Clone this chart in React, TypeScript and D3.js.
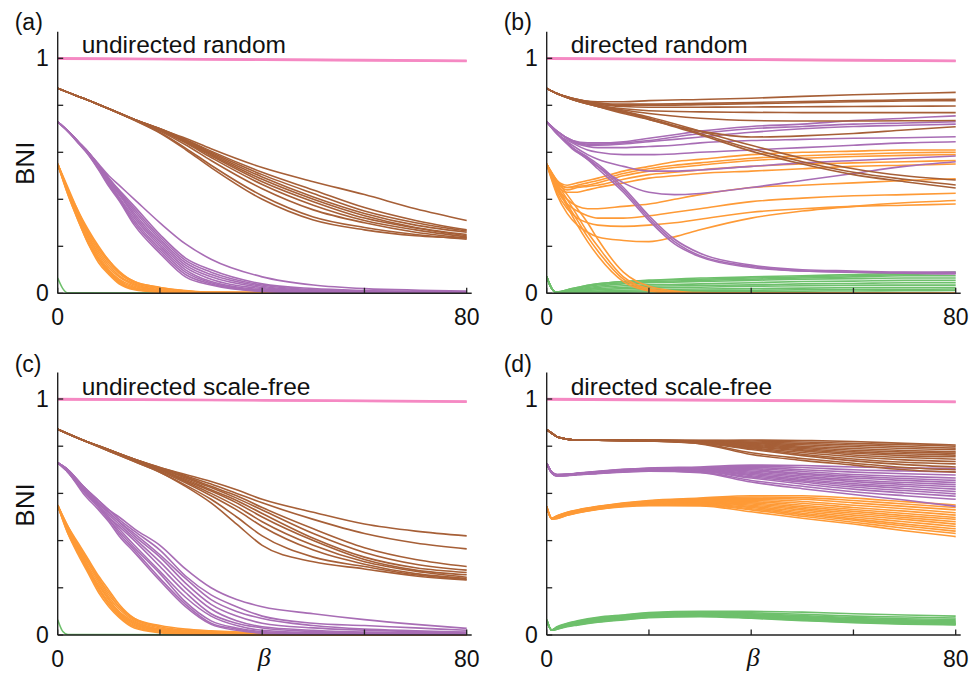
import React from 'react';
import * as d3 from 'd3';

// ---------- labels / ticks ----------
const PANEL_LETTERS = ['(a)', '(b)', '(c)', '(d)'];
const PANEL_TITLES = ['undirected random', 'directed random', 'undirected scale-free', 'directed scale-free'];
const X_TICKS = [0, 20, 40, 60, 80];
const Y_TICKS = [0, 0.2, 0.4, 0.6, 0.8, 1];
const X_TICK_LABELS = [{ v: 0, t: '0' }, { v: 80, t: '80' }];
const Y_TICK_LABELS = [{ v: 0, t: '0' }, { v: 1, t: '1' }];
const Y_LABEL = 'BNI';
const X_LABEL = 'β';

const COLORS = {
  pink: '#f589c3',
  brown: '#a65f37',
  purple: '#a86db5',
  orange: '#fe9a36',
  green: '#6ec06c',
};

// ---------- panel (a): undirected random ----------
const A_PINK_BETA = [0, 40, 80];
const A_PINK = [[1.0, 0.995, 0.99], [0.998, 0.994, 0.988]];
const A_GREEN_BETA = [0, 1, 2, 80];
const A_GREEN = [[0.065, 0.02, 0.002, 0]];
const A_ORANGE_BETA = [0, 2, 4, 6, 8, 10, 12, 15, 20, 25, 30, 80];
const A_ORANGE = [
  [0.55, 0.45, 0.35, 0.27, 0.2, 0.14, 0.095, 0.05, 0.025, 0.012, 0.005, 0],
  [0.55, 0.44, 0.34, 0.26, 0.19, 0.13, 0.085, 0.045, 0.02, 0.01, 0.004, 0],
  [0.55, 0.44, 0.34, 0.25, 0.18, 0.12, 0.075, 0.04, 0.015, 0.006, 0.002, 0],
  [0.55, 0.44, 0.33, 0.24, 0.17, 0.11, 0.07, 0.035, 0.012, 0.004, 0.001, 0],
  [0.55, 0.43, 0.33, 0.24, 0.16, 0.1, 0.06, 0.03, 0.01, 0.003, 0, 0],
  [0.55, 0.43, 0.32, 0.23, 0.15, 0.095, 0.055, 0.025, 0.008, 0.002, 0, 0],
  [0.55, 0.43, 0.32, 0.22, 0.145, 0.09, 0.05, 0.02, 0.006, 0, 0, 0],
  [0.55, 0.42, 0.31, 0.21, 0.14, 0.085, 0.045, 0.018, 0.005, 0, 0, 0],
  [0.55, 0.42, 0.31, 0.21, 0.13, 0.08, 0.04, 0.015, 0.004, 0, 0, 0],
  [0.55, 0.44, 0.35, 0.26, 0.19, 0.14, 0.09, 0.05, 0.025, 0.01, 0.004, 0],
];
const A_PURPLE_BETA = [0, 2, 4, 6, 8, 10, 12, 15, 20, 25, 30, 40, 50, 60, 80];
const A_PURPLE = [
  [0.73, 0.69, 0.645, 0.6, 0.55, 0.5, 0.46, 0.4, 0.3, 0.21, 0.145, 0.07, 0.035, 0.02, 0.01],
  [0.73, 0.69, 0.645, 0.6, 0.545, 0.49, 0.44, 0.37, 0.25, 0.15, 0.1, 0.04, 0.02, 0.012, 0.006],
  [0.73, 0.69, 0.645, 0.6, 0.545, 0.49, 0.435, 0.36, 0.24, 0.14, 0.09, 0.035, 0.015, 0.01, 0.005],
  [0.73, 0.69, 0.645, 0.6, 0.54, 0.485, 0.43, 0.35, 0.23, 0.13, 0.08, 0.03, 0.012, 0.008, 0.004],
  [0.73, 0.69, 0.645, 0.595, 0.54, 0.48, 0.425, 0.34, 0.22, 0.12, 0.07, 0.025, 0.01, 0.006, 0.003],
  [0.73, 0.69, 0.645, 0.595, 0.535, 0.475, 0.42, 0.33, 0.21, 0.11, 0.06, 0.02, 0.008, 0.005, 0.003],
  [0.73, 0.69, 0.645, 0.595, 0.535, 0.47, 0.41, 0.32, 0.2, 0.1, 0.05, 0.015, 0.006, 0.004, 0.002],
  [0.73, 0.69, 0.645, 0.595, 0.53, 0.465, 0.405, 0.31, 0.19, 0.09, 0.045, 0.012, 0.005, 0.003, 0.002],
  [0.73, 0.69, 0.64, 0.59, 0.53, 0.46, 0.4, 0.3, 0.18, 0.08, 0.04, 0.01, 0.004, 0.002, 0.001],
  [0.73, 0.69, 0.64, 0.59, 0.525, 0.455, 0.395, 0.29, 0.17, 0.07, 0.035, 0.008, 0.003, 0.002, 0.001],
];
const A_BROWN_BETA = [0, 2, 5, 10, 15, 20, 25, 30, 40, 50, 60, 70, 80];
const A_BROWN = [
  [0.872, 0.855, 0.83, 0.785, 0.74, 0.7, 0.66, 0.615, 0.535, 0.475, 0.42, 0.36, 0.31],
  [0.872, 0.855, 0.83, 0.785, 0.74, 0.7, 0.655, 0.605, 0.515, 0.44, 0.365, 0.31, 0.27],
  [0.872, 0.855, 0.83, 0.785, 0.74, 0.7, 0.652, 0.6, 0.505, 0.425, 0.35, 0.3, 0.265],
  [0.872, 0.855, 0.83, 0.785, 0.74, 0.698, 0.65, 0.595, 0.495, 0.41, 0.34, 0.29, 0.26],
  [0.872, 0.855, 0.83, 0.785, 0.74, 0.696, 0.646, 0.59, 0.485, 0.4, 0.33, 0.28, 0.25],
  [0.872, 0.855, 0.83, 0.785, 0.74, 0.695, 0.643, 0.585, 0.475, 0.39, 0.32, 0.278, 0.245],
  [0.872, 0.855, 0.83, 0.785, 0.74, 0.694, 0.64, 0.578, 0.463, 0.375, 0.31, 0.27, 0.24],
  [0.872, 0.855, 0.83, 0.785, 0.739, 0.69, 0.632, 0.565, 0.445, 0.355, 0.3, 0.26, 0.235],
  [0.872, 0.855, 0.83, 0.785, 0.737, 0.684, 0.618, 0.545, 0.415, 0.325, 0.28, 0.25, 0.23],
  [0.872, 0.855, 0.83, 0.785, 0.736, 0.682, 0.612, 0.535, 0.4, 0.312, 0.27, 0.245, 0.235],
];

// ---------- panel (b): directed random ----------
const B_PINK_BETA = [0, 40, 80];
const B_PINK = [[1.0, 0.995, 0.99], [0.998, 0.994, 0.988]];
const B_GREEN_BETA = [0, 1, 2, 5, 10, 15, 20, 30, 40, 50, 60, 70, 80];
const B_GREEN = [
  [0.07, 0.02, 0.005, 0.02, 0.04, 0.05, 0.055, 0.065, 0.07, 0.075, 0.08, 0.085, 0.09],
  [0.07, 0.02, 0.005, 0.02, 0.04, 0.05, 0.055, 0.06, 0.065, 0.07, 0.075, 0.08, 0.085],
  [0.07, 0.02, 0.005, 0.018, 0.035, 0.045, 0.05, 0.055, 0.06, 0.065, 0.07, 0.075, 0.075],
  [0.07, 0.02, 0.004, 0.015, 0.03, 0.04, 0.045, 0.05, 0.055, 0.06, 0.062, 0.065, 0.065],
  [0.07, 0.02, 0.004, 0.012, 0.025, 0.032, 0.036, 0.04, 0.045, 0.05, 0.052, 0.055, 0.055],
  [0.07, 0.02, 0.003, 0.01, 0.02, 0.025, 0.03, 0.033, 0.036, 0.04, 0.042, 0.045, 0.045],
  [0.07, 0.02, 0.003, 0.008, 0.015, 0.02, 0.023, 0.026, 0.03, 0.032, 0.034, 0.035, 0.035],
  [0.07, 0.02, 0.002, 0.006, 0.01, 0.013, 0.016, 0.018, 0.02, 0.022, 0.024, 0.025, 0.025],
  [0.07, 0.02, 0.002, 0.004, 0.007, 0.009, 0.01, 0.012, 0.013, 0.015, 0.016, 0.017, 0.018],
  [0.07, 0.02, 0.001, 0.002, 0.004, 0.005, 0.006, 0.007, 0.008, 0.009, 0.01, 0.011, 0.012],
];
const B_ORANGE_BETA = [0, 2, 4, 6, 8, 10, 15, 20, 25, 30, 40, 50, 60, 70, 80];
const B_ORANGE = [
  [0.55, 0.48, 0.46, 0.47, 0.48, 0.49, 0.52, 0.54, 0.56, 0.57, 0.59, 0.6, 0.605, 0.61, 0.61],
  [0.55, 0.48, 0.45, 0.46, 0.47, 0.48, 0.51, 0.53, 0.545, 0.555, 0.575, 0.585, 0.592, 0.598, 0.6],
  [0.55, 0.47, 0.45, 0.455, 0.46, 0.47, 0.5, 0.52, 0.535, 0.545, 0.565, 0.575, 0.582, 0.587, 0.59],
  [0.55, 0.47, 0.44, 0.45, 0.455, 0.46, 0.485, 0.505, 0.515, 0.525, 0.54, 0.55, 0.555, 0.56, 0.565],
  [0.55, 0.46, 0.43, 0.43, 0.44, 0.45, 0.47, 0.49, 0.5, 0.51, 0.52, 0.53, 0.54, 0.545, 0.55],
  [0.55, 0.45, 0.4, 0.37, 0.36, 0.36, 0.37, 0.38, 0.4, 0.42, 0.45, 0.46, 0.47, 0.48, 0.487],
  [0.55, 0.44, 0.38, 0.35, 0.33, 0.32, 0.32, 0.33, 0.345, 0.36, 0.39, 0.405, 0.415, 0.42, 0.426],
  [0.55, 0.43, 0.36, 0.32, 0.3, 0.29, 0.285, 0.29, 0.3, 0.315, 0.345, 0.36, 0.37, 0.375, 0.38],
  [0.55, 0.42, 0.34, 0.29, 0.26, 0.24, 0.225, 0.22, 0.24, 0.27, 0.32, 0.35, 0.37, 0.385, 0.395],
  [0.55, 0.47, 0.4, 0.33, 0.26, 0.2, 0.07, 0.02, 0.005, 0, 0, 0, 0, 0, 0],
  [0.55, 0.46, 0.38, 0.31, 0.24, 0.18, 0.06, 0.015, 0.004, 0, 0, 0, 0, 0, 0],
  [0.55, 0.45, 0.37, 0.29, 0.22, 0.16, 0.05, 0.01, 0, 0, 0, 0, 0, 0, 0],
  [0.55, 0.48, 0.42, 0.36, 0.3, 0.23, 0.09, 0.03, 0.01, 0.003, 0, 0, 0, 0, 0],
];
const B_PURPLE_BETA = [0, 2, 5, 8, 10, 15, 20, 25, 30, 40, 50, 60, 70, 80];
const B_PURPLE = [
  [0.73, 0.69, 0.65, 0.64, 0.64, 0.645, 0.66, 0.675, 0.69, 0.71, 0.72, 0.735, 0.745, 0.755],
  [0.73, 0.69, 0.65, 0.635, 0.635, 0.64, 0.65, 0.665, 0.68, 0.7, 0.71, 0.72, 0.725, 0.73],
  [0.73, 0.69, 0.65, 0.63, 0.63, 0.635, 0.645, 0.655, 0.665, 0.685, 0.7, 0.71, 0.715, 0.72],
  [0.73, 0.69, 0.645, 0.625, 0.62, 0.62, 0.625, 0.63, 0.64, 0.65, 0.655, 0.66, 0.662, 0.666],
  [0.73, 0.68, 0.64, 0.61, 0.6, 0.59, 0.59, 0.593, 0.6, 0.61, 0.62, 0.63, 0.64, 0.645],
  [0.73, 0.68, 0.63, 0.59, 0.57, 0.54, 0.52, 0.52, 0.525, 0.54, 0.555, 0.565, 0.575, 0.584],
  [0.73, 0.68, 0.62, 0.57, 0.54, 0.47, 0.43, 0.42, 0.425, 0.45, 0.48, 0.51, 0.54, 0.56],
  [0.73, 0.68, 0.62, 0.58, 0.55, 0.45, 0.33, 0.23, 0.17, 0.12, 0.1, 0.095, 0.09, 0.09],
  [0.73, 0.68, 0.62, 0.575, 0.54, 0.44, 0.32, 0.22, 0.16, 0.115, 0.095, 0.09, 0.085, 0.082],
  [0.73, 0.68, 0.615, 0.57, 0.53, 0.43, 0.31, 0.21, 0.155, 0.11, 0.095, 0.09, 0.088, 0.085],
];
const B_BROWN_BETA = [0, 2, 5, 10, 15, 20, 30, 40, 50, 60, 70, 80];
const B_BROWN = [
  [0.872, 0.85, 0.83, 0.815, 0.815, 0.82, 0.825, 0.83, 0.838, 0.845, 0.85, 0.855],
  [0.872, 0.85, 0.83, 0.81, 0.805, 0.805, 0.808, 0.812, 0.816, 0.82, 0.823, 0.826],
  [0.872, 0.85, 0.83, 0.81, 0.8, 0.8, 0.803, 0.807, 0.811, 0.815, 0.818, 0.82],
  [0.872, 0.85, 0.828, 0.805, 0.795, 0.792, 0.792, 0.793, 0.794, 0.795, 0.796, 0.797],
  [0.872, 0.85, 0.828, 0.8, 0.785, 0.777, 0.772, 0.77, 0.769, 0.769, 0.769, 0.769],
  [0.872, 0.85, 0.826, 0.8, 0.78, 0.765, 0.745, 0.735, 0.733, 0.733, 0.734, 0.735],
  [0.872, 0.85, 0.826, 0.795, 0.775, 0.74, 0.69, 0.665, 0.67, 0.68, 0.695, 0.709],
  [0.872, 0.85, 0.825, 0.8, 0.775, 0.75, 0.69, 0.63, 0.575, 0.53, 0.5, 0.482],
  [0.872, 0.85, 0.825, 0.795, 0.77, 0.745, 0.68, 0.615, 0.56, 0.515, 0.485, 0.461],
  [0.872, 0.85, 0.825, 0.795, 0.765, 0.74, 0.675, 0.605, 0.55, 0.505, 0.475, 0.448],
];

// ---------- panel (c): undirected scale-free ----------
const C_PINK_BETA = [0, 40, 80];
const C_PINK = [[1.0, 0.995, 0.99], [0.998, 0.994, 0.988]];
const C_GREEN_BETA = [0, 1, 2, 80];
const C_GREEN = [[0.065, 0.015, 0.002, 0]];
const C_ORANGE_BETA = [0, 2, 4, 6, 8, 10, 12, 15, 20, 25, 30, 40, 80];
const C_ORANGE = [
  [0.55, 0.46, 0.39, 0.32, 0.25, 0.19, 0.13, 0.07, 0.035, 0.02, 0.015, 0.008, 0],
  [0.55, 0.45, 0.38, 0.31, 0.24, 0.17, 0.12, 0.065, 0.03, 0.018, 0.012, 0.006, 0],
  [0.55, 0.45, 0.37, 0.3, 0.23, 0.16, 0.11, 0.06, 0.025, 0.015, 0.01, 0.005, 0],
  [0.55, 0.45, 0.37, 0.29, 0.22, 0.15, 0.1, 0.055, 0.022, 0.012, 0.008, 0.004, 0],
  [0.55, 0.44, 0.36, 0.28, 0.21, 0.15, 0.095, 0.05, 0.02, 0.01, 0.006, 0.003, 0],
  [0.55, 0.44, 0.36, 0.28, 0.2, 0.14, 0.09, 0.045, 0.018, 0.008, 0.005, 0.002, 0],
  [0.55, 0.44, 0.35, 0.27, 0.2, 0.13, 0.085, 0.04, 0.015, 0.006, 0.004, 0.002, 0],
  [0.55, 0.43, 0.35, 0.27, 0.19, 0.13, 0.08, 0.035, 0.012, 0.005, 0.003, 0.001, 0],
  [0.55, 0.43, 0.34, 0.26, 0.18, 0.12, 0.075, 0.03, 0.01, 0.004, 0.002, 0, 0],
  [0.55, 0.46, 0.38, 0.31, 0.24, 0.18, 0.12, 0.07, 0.04, 0.025, 0.018, 0.01, 0.002],
];
const C_PURPLE_BETA = [0, 2, 5, 8, 10, 12, 15, 20, 25, 30, 35, 40, 50, 60, 70, 80];
const C_PURPLE = [
  [0.73, 0.7, 0.63, 0.57, 0.53, 0.5, 0.45, 0.38, 0.28, 0.2, 0.15, 0.12, 0.09, 0.065, 0.045, 0.028],
  [0.73, 0.7, 0.63, 0.57, 0.53, 0.49, 0.44, 0.36, 0.25, 0.17, 0.12, 0.08, 0.05, 0.04, 0.03, 0.02],
  [0.73, 0.7, 0.62, 0.56, 0.52, 0.48, 0.42, 0.33, 0.22, 0.13, 0.08, 0.05, 0.03, 0.02, 0.015, 0.01],
  [0.73, 0.7, 0.62, 0.56, 0.51, 0.47, 0.41, 0.31, 0.2, 0.11, 0.06, 0.035, 0.02, 0.012, 0.01, 0.008],
  [0.73, 0.69, 0.62, 0.55, 0.5, 0.46, 0.4, 0.29, 0.18, 0.09, 0.05, 0.03, 0.015, 0.01, 0.008, 0.005],
  [0.73, 0.69, 0.61, 0.55, 0.5, 0.45, 0.38, 0.27, 0.16, 0.08, 0.04, 0.02, 0.01, 0.008, 0.005, 0.004],
  [0.73, 0.69, 0.61, 0.54, 0.49, 0.44, 0.37, 0.26, 0.14, 0.06, 0.03, 0.015, 0.008, 0.005, 0.004, 0.003],
  [0.73, 0.69, 0.61, 0.54, 0.49, 0.43, 0.36, 0.24, 0.13, 0.05, 0.025, 0.01, 0.005, 0.004, 0.003, 0.002],
  [0.73, 0.69, 0.6, 0.53, 0.48, 0.42, 0.35, 0.23, 0.12, 0.045, 0.02, 0.008, 0.004, 0.003, 0.002, 0.002],
  [0.73, 0.7, 0.63, 0.56, 0.52, 0.48, 0.43, 0.34, 0.24, 0.15, 0.1, 0.07, 0.04, 0.025, 0.018, 0.012],
];
const C_BROWN_BETA = [0, 5, 10, 15, 20, 25, 30, 35, 40, 50, 60, 70, 80];
const C_BROWN = [
  [0.872, 0.825, 0.785, 0.745, 0.71, 0.68, 0.65, 0.615, 0.575, 0.52, 0.47, 0.44, 0.42],
  [0.872, 0.825, 0.785, 0.745, 0.71, 0.675, 0.64, 0.6, 0.56, 0.49, 0.43, 0.39, 0.365],
  [0.872, 0.825, 0.785, 0.745, 0.705, 0.67, 0.63, 0.59, 0.54, 0.45, 0.37, 0.32, 0.29],
  [0.872, 0.825, 0.785, 0.745, 0.705, 0.665, 0.625, 0.58, 0.53, 0.43, 0.35, 0.3, 0.275],
  [0.872, 0.825, 0.785, 0.74, 0.7, 0.66, 0.615, 0.57, 0.515, 0.41, 0.33, 0.285, 0.265],
  [0.872, 0.825, 0.785, 0.74, 0.7, 0.655, 0.61, 0.56, 0.5, 0.4, 0.32, 0.275, 0.255],
  [0.872, 0.825, 0.785, 0.74, 0.7, 0.65, 0.6, 0.545, 0.48, 0.38, 0.31, 0.27, 0.245],
  [0.872, 0.825, 0.78, 0.74, 0.695, 0.645, 0.59, 0.53, 0.46, 0.36, 0.3, 0.26, 0.24],
  [0.872, 0.825, 0.78, 0.735, 0.69, 0.635, 0.575, 0.5, 0.42, 0.33, 0.29, 0.255, 0.235],
  [0.872, 0.825, 0.78, 0.735, 0.69, 0.63, 0.56, 0.47, 0.38, 0.31, 0.28, 0.25, 0.233],
];

// ---------- panel (d): directed scale-free ----------
const D_PINK_BETA = [0, 40, 80];
const D_PINK = [[1.0, 0.995, 0.989], [0.998, 0.993, 0.987]];
const D_GREEN_BETA = [0, 1, 2, 4, 6, 10, 15, 20, 30, 40, 50, 60, 70, 80];
const D_GREEN = [
  [0.064, 0.022, 0.035, 0.05, 0.06, 0.075, 0.085, 0.095, 0.1, 0.1, 0.097, 0.09, 0.085, 0.08],
  [0.064, 0.021, 0.033, 0.048, 0.058, 0.072, 0.083, 0.092, 0.098, 0.094, 0.088, 0.08, 0.076, 0.072],
  [0.064, 0.021, 0.032, 0.046, 0.056, 0.07, 0.08, 0.089, 0.095, 0.09, 0.082, 0.074, 0.069, 0.066],
  [0.064, 0.021, 0.031, 0.045, 0.055, 0.068, 0.078, 0.087, 0.093, 0.087, 0.078, 0.07, 0.064, 0.061],
  [0.064, 0.021, 0.03, 0.044, 0.053, 0.066, 0.076, 0.085, 0.09, 0.084, 0.075, 0.066, 0.06, 0.057],
  [0.064, 0.02, 0.029, 0.042, 0.051, 0.064, 0.074, 0.083, 0.088, 0.081, 0.072, 0.063, 0.057, 0.054],
  [0.064, 0.02, 0.028, 0.041, 0.05, 0.062, 0.072, 0.081, 0.086, 0.079, 0.069, 0.06, 0.054, 0.051],
  [0.064, 0.02, 0.027, 0.04, 0.048, 0.06, 0.07, 0.079, 0.084, 0.077, 0.067, 0.058, 0.052, 0.049],
  [0.064, 0.02, 0.026, 0.038, 0.046, 0.058, 0.068, 0.077, 0.082, 0.075, 0.065, 0.056, 0.05, 0.047],
  [0.064, 0.02, 0.025, 0.037, 0.044, 0.056, 0.066, 0.075, 0.08, 0.073, 0.063, 0.054, 0.048, 0.045],
  [0.064, 0.02, 0.024, 0.035, 0.042, 0.054, 0.064, 0.073, 0.078, 0.071, 0.061, 0.052, 0.046, 0.043],
];
const D_ORANGE_BETA = [0, 1, 2, 4, 6, 10, 20, 30, 40, 50, 60, 70, 80];
const D_ORANGE = [
  [0.544, 0.495, 0.505, 0.52, 0.53, 0.545, 0.57, 0.58, 0.59, 0.59, 0.58, 0.565, 0.551],
  [0.544, 0.495, 0.504, 0.519, 0.529, 0.544, 0.568, 0.578, 0.585, 0.582, 0.57, 0.555, 0.54],
  [0.544, 0.495, 0.503, 0.518, 0.528, 0.543, 0.566, 0.575, 0.58, 0.575, 0.56, 0.545, 0.53],
  [0.544, 0.495, 0.502, 0.517, 0.527, 0.542, 0.565, 0.572, 0.575, 0.566, 0.55, 0.535, 0.518],
  [0.544, 0.494, 0.501, 0.516, 0.526, 0.541, 0.563, 0.57, 0.57, 0.558, 0.54, 0.525, 0.508],
  [0.544, 0.494, 0.5, 0.515, 0.525, 0.54, 0.562, 0.567, 0.565, 0.55, 0.532, 0.515, 0.498],
  [0.544, 0.494, 0.5, 0.514, 0.524, 0.539, 0.56, 0.565, 0.56, 0.543, 0.524, 0.506, 0.49],
  [0.544, 0.494, 0.499, 0.513, 0.523, 0.538, 0.558, 0.562, 0.555, 0.536, 0.516, 0.498, 0.48],
  [0.544, 0.493, 0.498, 0.512, 0.522, 0.537, 0.557, 0.56, 0.55, 0.53, 0.508, 0.49, 0.47],
  [0.544, 0.493, 0.497, 0.511, 0.521, 0.536, 0.555, 0.557, 0.545, 0.523, 0.5, 0.48, 0.46],
  [0.544, 0.493, 0.496, 0.51, 0.52, 0.535, 0.553, 0.555, 0.54, 0.516, 0.492, 0.47, 0.45],
  [0.544, 0.492, 0.495, 0.509, 0.519, 0.534, 0.551, 0.552, 0.535, 0.51, 0.486, 0.462, 0.44],
  [0.544, 0.492, 0.494, 0.508, 0.518, 0.533, 0.55, 0.55, 0.53, 0.503, 0.478, 0.452, 0.43],
  [0.544, 0.492, 0.493, 0.507, 0.517, 0.532, 0.548, 0.547, 0.522, 0.495, 0.47, 0.442, 0.417],
];
const D_PURPLE_BETA = [0, 1, 2, 4, 6, 10, 20, 30, 40, 50, 60, 70, 80];
const D_PURPLE = [
  [0.727, 0.69, 0.68, 0.682, 0.686, 0.694, 0.707, 0.712, 0.72, 0.718, 0.712, 0.708, 0.705],
  [0.727, 0.69, 0.68, 0.681, 0.685, 0.693, 0.706, 0.71, 0.715, 0.71, 0.7, 0.695, 0.69],
  [0.727, 0.69, 0.679, 0.681, 0.685, 0.692, 0.705, 0.708, 0.71, 0.7, 0.69, 0.683, 0.678],
  [0.727, 0.689, 0.679, 0.68, 0.684, 0.691, 0.704, 0.707, 0.705, 0.693, 0.68, 0.672, 0.665],
  [0.727, 0.689, 0.678, 0.68, 0.684, 0.69, 0.703, 0.705, 0.7, 0.685, 0.672, 0.663, 0.655],
  [0.727, 0.689, 0.678, 0.679, 0.683, 0.69, 0.702, 0.704, 0.695, 0.68, 0.665, 0.655, 0.646],
  [0.727, 0.688, 0.677, 0.679, 0.683, 0.689, 0.701, 0.702, 0.69, 0.673, 0.657, 0.646, 0.637],
  [0.727, 0.688, 0.677, 0.678, 0.682, 0.688, 0.7, 0.7, 0.685, 0.667, 0.65, 0.638, 0.628],
  [0.727, 0.688, 0.676, 0.678, 0.682, 0.688, 0.699, 0.698, 0.68, 0.66, 0.642, 0.63, 0.618],
  [0.727, 0.687, 0.676, 0.677, 0.681, 0.687, 0.698, 0.697, 0.675, 0.654, 0.635, 0.621, 0.608],
  [0.727, 0.687, 0.675, 0.677, 0.681, 0.686, 0.697, 0.695, 0.67, 0.648, 0.627, 0.612, 0.598],
  [0.727, 0.687, 0.675, 0.676, 0.68, 0.686, 0.696, 0.693, 0.665, 0.64, 0.618, 0.602, 0.588],
  [0.727, 0.686, 0.674, 0.676, 0.68, 0.685, 0.695, 0.69, 0.655, 0.63, 0.607, 0.59, 0.575],
  [0.727, 0.686, 0.674, 0.675, 0.679, 0.684, 0.694, 0.688, 0.648, 0.62, 0.595, 0.572, 0.545],
];
const D_BROWN_BETA = [0, 1, 2, 4, 6, 10, 20, 30, 40, 50, 60, 70, 80];
const D_BROWN = [
  [0.87, 0.855, 0.84, 0.83, 0.826, 0.825, 0.826, 0.825, 0.826, 0.824, 0.82, 0.812, 0.805],
  [0.87, 0.855, 0.84, 0.83, 0.826, 0.825, 0.825, 0.824, 0.822, 0.818, 0.812, 0.806, 0.8],
  [0.87, 0.855, 0.84, 0.83, 0.826, 0.825, 0.825, 0.823, 0.818, 0.812, 0.805, 0.798, 0.792],
  [0.87, 0.855, 0.84, 0.83, 0.826, 0.825, 0.825, 0.822, 0.815, 0.806, 0.798, 0.79, 0.785],
  [0.87, 0.855, 0.84, 0.83, 0.826, 0.825, 0.825, 0.821, 0.812, 0.8, 0.79, 0.782, 0.776],
  [0.87, 0.855, 0.84, 0.83, 0.826, 0.825, 0.824, 0.82, 0.808, 0.795, 0.783, 0.775, 0.77],
  [0.87, 0.855, 0.84, 0.83, 0.826, 0.825, 0.824, 0.819, 0.804, 0.79, 0.776, 0.768, 0.762],
  [0.87, 0.855, 0.84, 0.83, 0.826, 0.825, 0.824, 0.818, 0.8, 0.785, 0.77, 0.76, 0.755],
  [0.87, 0.855, 0.84, 0.83, 0.826, 0.825, 0.823, 0.817, 0.797, 0.78, 0.763, 0.752, 0.745],
  [0.87, 0.855, 0.84, 0.83, 0.826, 0.825, 0.823, 0.816, 0.793, 0.773, 0.755, 0.742, 0.735],
  [0.87, 0.855, 0.84, 0.83, 0.826, 0.825, 0.823, 0.815, 0.79, 0.766, 0.746, 0.732, 0.725],
  [0.87, 0.855, 0.84, 0.83, 0.826, 0.825, 0.822, 0.814, 0.786, 0.76, 0.738, 0.722, 0.712],
  [0.87, 0.855, 0.84, 0.83, 0.826, 0.825, 0.822, 0.812, 0.772, 0.748, 0.728, 0.71, 0.7],
  [0.87, 0.855, 0.84, 0.83, 0.826, 0.825, 0.822, 0.81, 0.765, 0.74, 0.72, 0.7, 0.69],
];

// ---------- panel assembly ----------
const PANEL_SERIES = [
  [
    { beta: A_GREEN_BETA, lines: A_GREEN, color: COLORS.green },
    { beta: A_ORANGE_BETA, lines: A_ORANGE, color: COLORS.orange },
    { beta: A_PURPLE_BETA, lines: A_PURPLE, color: COLORS.purple },
    { beta: A_BROWN_BETA, lines: A_BROWN, color: COLORS.brown },
    { beta: A_PINK_BETA, lines: A_PINK, color: COLORS.pink, thick: true },
  ],
  [
    { beta: B_GREEN_BETA, lines: B_GREEN, color: COLORS.green },
    { beta: B_ORANGE_BETA, lines: B_ORANGE, color: COLORS.orange },
    { beta: B_PURPLE_BETA, lines: B_PURPLE, color: COLORS.purple },
    { beta: B_BROWN_BETA, lines: B_BROWN, color: COLORS.brown },
    { beta: B_PINK_BETA, lines: B_PINK, color: COLORS.pink, thick: true },
  ],
  [
    { beta: C_GREEN_BETA, lines: C_GREEN, color: COLORS.green },
    { beta: C_ORANGE_BETA, lines: C_ORANGE, color: COLORS.orange },
    { beta: C_PURPLE_BETA, lines: C_PURPLE, color: COLORS.purple },
    { beta: C_BROWN_BETA, lines: C_BROWN, color: COLORS.brown },
    { beta: C_PINK_BETA, lines: C_PINK, color: COLORS.pink, thick: true },
  ],
  [
    { beta: D_GREEN_BETA, lines: D_GREEN, color: COLORS.green },
    { beta: D_ORANGE_BETA, lines: D_ORANGE, color: COLORS.orange },
    { beta: D_PURPLE_BETA, lines: D_PURPLE, color: COLORS.purple },
    { beta: D_BROWN_BETA, lines: D_BROWN, color: COLORS.brown },
    { beta: D_PINK_BETA, lines: D_PINK, color: COLORS.pink, thick: true },
  ],
];

const W = 975;
const H = 678;
const PANEL_LEFT = [57.7, 546.7, 57.7, 546.7];
const PANEL_BOTTOM = [293.3, 293.3, 635, 635];
const PLOT_W = 409;
const PLOT_H = [235, 235, 236, 236];
const AXIS_TOP_EXTRA = 26.5;
const FONT = '"Liberation Sans", Arial, Helvetica, sans-serif';

function Panel({ i }: { i: number }) {
  const left = PANEL_LEFT[i];
  const bottom = PANEL_BOTTOM[i];
  const x = d3.scaleLinear().domain([0, 80]).range([left, left + PLOT_W]);
  const y = d3.scaleLinear().domain([0, 1]).range([bottom, bottom - PLOT_H[i]]);
  const isBottomRow = i >= 2;
  const isLeftCol = i % 2 === 0;
  const axisTop = y(1) - AXIS_TOP_EXTRA;

  return (
    <g>
      {PANEL_SERIES[i].map((s, si) => {
        const line = d3
          .line<number>()
          .x((_, k) => x(s.beta[k]))
          .y((v) => y(v))
          .curve(d3.curveMonotoneX);
        return (
          <g key={si}>
            {s.lines.map((vals, li) => (
              <path
                key={li}
                d={line(vals) || ''}
                fill="none"
                stroke={s.color}
                strokeWidth={(s as any).thick ? 2.4 : 1.6}
                strokeLinejoin="round"
              />
            ))}
          </g>
        );
      })}
      {/* axes */}
      <line x1={left} x2={left} y1={axisTop} y2={bottom} stroke="#222" strokeWidth={1.4} />
      <line x1={left} x2={x(80) + 5} y1={bottom} y2={bottom} stroke="#222" strokeWidth={1.4} />
      {Y_TICKS.map((t) => (
        <line key={'yt' + t} x1={left} x2={left + 5.5} y1={y(t)} y2={y(t)} stroke="#222" strokeWidth={1.3} />
      ))}
      {X_TICKS.map((t) => (
        <line key={'xt' + t} x1={x(t)} x2={x(t)} y1={bottom} y2={bottom - 5.5} stroke="#222" strokeWidth={1.3} />
      ))}
      {Y_TICK_LABELS.map((t) => (
        <text
          key={'yl' + t.t}
          x={left - 9}
          y={y(t.v) + 8}
          textAnchor="end"
          fontSize={23}
          fontFamily={FONT}
          fill="#111"
        >
          {t.t}
        </text>
      ))}
      {X_TICK_LABELS.map((t) => (
        <text
          key={'xl' + t.t}
          x={x(t.v)}
          y={bottom + 32}
          textAnchor="middle"
          fontSize={23}
          fontFamily={FONT}
          fill="#111"
        >
          {t.t}
        </text>
      ))}
      <text x={left - 43} y={bottom - 263} fontSize={23} fontFamily={FONT} fill="#111">
        {PANEL_LETTERS[i]}
      </text>
      <text x={left + 24} y={bottom - 240} fontSize={24.5} fontFamily={FONT} fill="#111">
        {PANEL_TITLES[i]}
      </text>
      {isLeftCol && (
        <text
          transform={`translate(${left - 24},${bottom - 130}) rotate(-90)`}
          textAnchor="middle"
          fontSize={26}
          fontFamily={FONT}
          fill="#111"
        >
          {Y_LABEL}
        </text>
      )}
      {isBottomRow && (
        <text
          x={x(40) + 2}
          y={bottom + 31}
          textAnchor="middle"
          fontSize={26}
          fontStyle="italic"
          fontFamily='"Liberation Serif", "DejaVu Serif", serif'
          fill="#111"
        >
          {X_LABEL}
        </text>
      )}
    </g>
  );
}

export default function App() {
  return (
    <svg
      width={W}
      height={H}
      viewBox={`0 0 ${W} ${H}`}
      style={{ position: 'absolute', left: 0, top: 0, background: '#fff' }}
    >
      <rect width={W} height={H} fill="#fff" />
      {[0, 1, 2, 3].map((i) => (
        <Panel key={i} i={i} />
      ))}
    </svg>
  );
}
